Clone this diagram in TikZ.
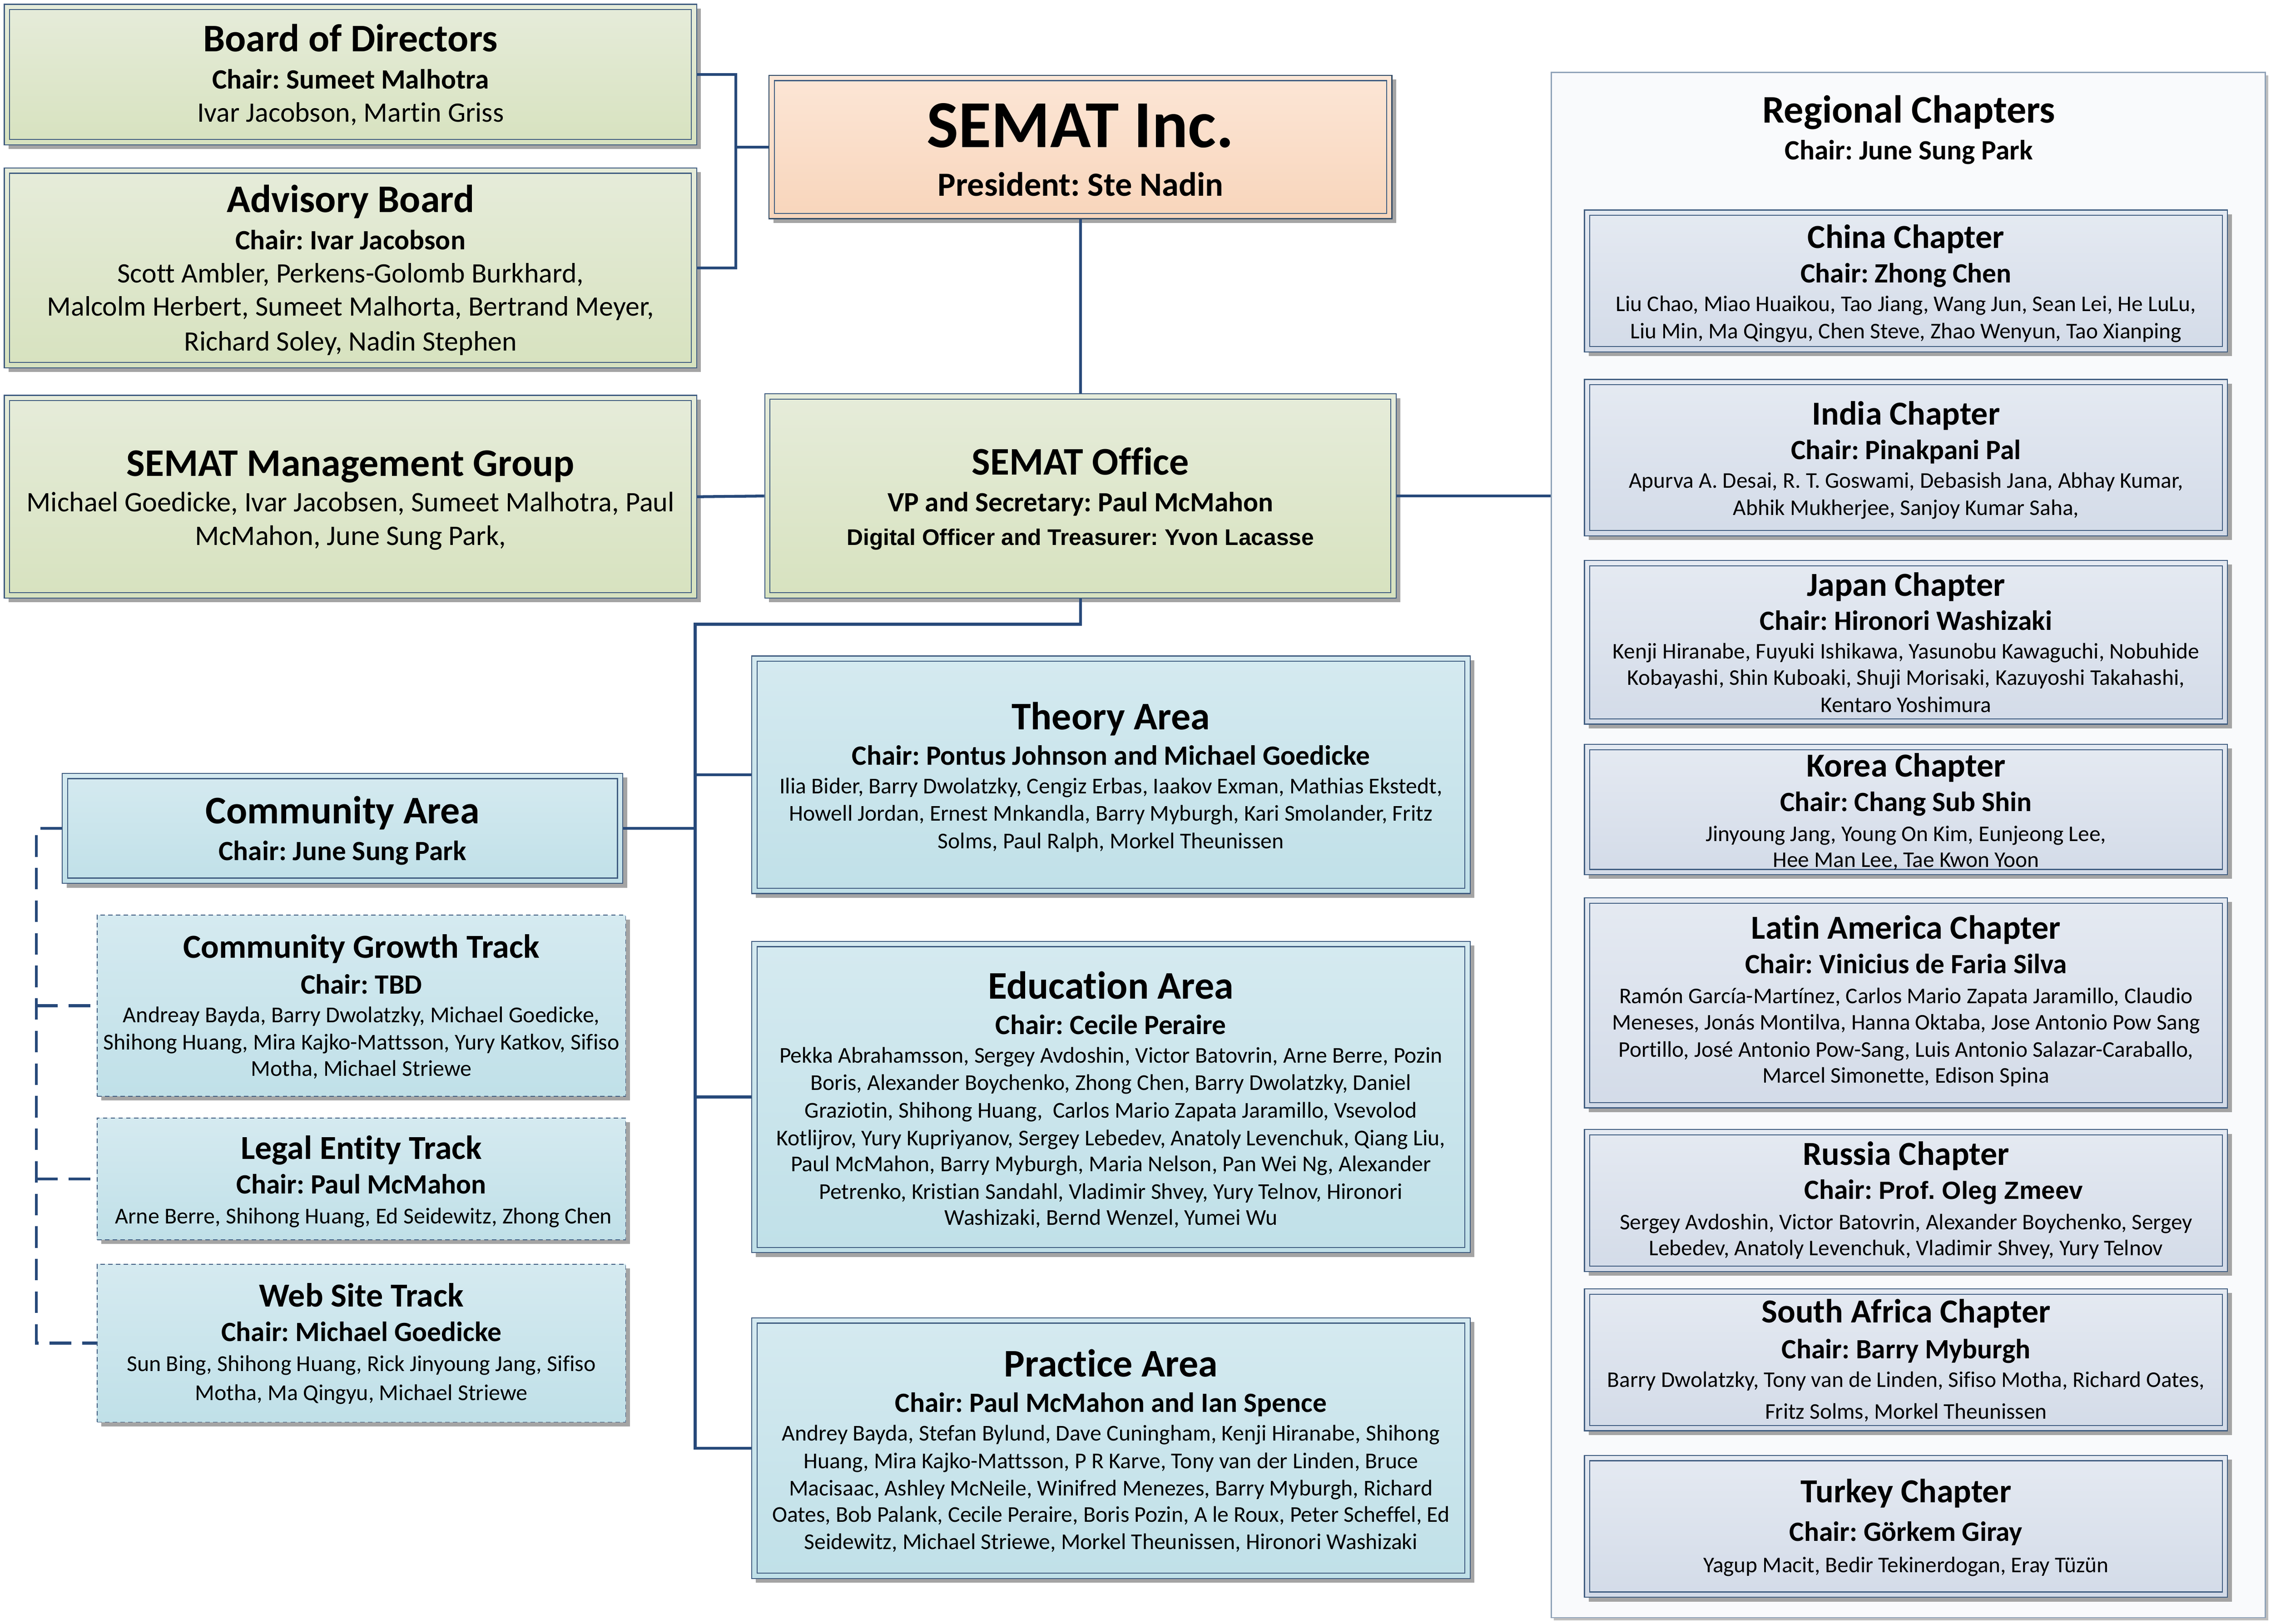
\documentclass[tikz,border=0pt]{standalone}
\usepackage{fontspec}
\setmainfont{Carlito}[Ligatures={NoCommon}]
\newfontfamily\arialfont{Liberation Sans}
\usetikzlibrary{shadows,fit}
\definecolor{bordc}{HTML}{3F5C80}
\definecolor{connc}{HTML}{27497A}
\definecolor{shadowc}{HTML}{A4A4A4}
\definecolor{grT}{HTML}{E6ECDA}
\definecolor{grB}{HTML}{D7E2BF}
\definecolor{peT}{HTML}{FCE6D6}
\definecolor{peB}{HTML}{F8D5BB}
\definecolor{blT}{HTML}{D5EAF0}
\definecolor{blB}{HTML}{C0E0E8}
\definecolor{chT}{HTML}{E5EAF2}
\definecolor{chB}{HTML}{D3DBE8}
\definecolor{panelc}{HTML}{F9FAFC}
\definecolor{paneld}{HTML}{8FA2B8}
\newcommand\setfs[1]{\fontsize{#1}{#1}\selectfont}
\frenchspacing
\tikzset{
  boxbase/.style={rectangle, inner sep=0pt, draw=bordc, line width=0.5pt,
    drop shadow={shadow xshift=2.1pt, shadow yshift=-2.1pt, fill=shadowc, opacity=1}},
  innerframe/.style={path picture={\draw[bordc, line width=0.5pt]
    ([xshift=2.6pt,yshift=2.6pt]path picture bounding box.south west) rectangle
    ([xshift=-2.6pt,yshift=-2.6pt]path picture bounding box.north east);}},
  greenbox/.style={boxbase, innerframe, top color=grT, bottom color=grB},
  peachbox/.style={boxbase, innerframe, top color=peT, bottom color=peB, draw=bordc!80!black},
  bluebox/.style={boxbase, innerframe, top color=blT, bottom color=blB},
  chapbox/.style={boxbase, innerframe, top color=chT, bottom color=chB},
  trackbox/.style={boxbase, top color=blT, bottom color=blB, line width=0.4pt, dash pattern=on 2.2pt off 1.6pt},
  panel/.style={rectangle, inner sep=0pt, fill=panelc, draw=paneld, line width=0.6pt,
    drop shadow={shadow xshift=1.4pt, shadow yshift=-1.4pt, fill=black!25, opacity=1}},
  conn/.style={draw=connc, line width=1.4pt},
  dconn/.style={draw=connc, line width=1.4pt, dash pattern=on 10.5pt off 5.5pt},
  txt/.style={anchor=base, inner sep=0pt, text=black},
  tone/.style={txt, font=\bfseries\setfs{19.2}, yshift=-6.2pt},
  tinc/.style={txt, font=\bfseries\setfs{33}, yshift=-10.6pt},
  tpres/.style={txt, font=\bfseries\setfs{16.6}, yshift=-5.3pt},
  tch/.style={txt, font=\bfseries\setfs{13.7}, yshift=-4.4pt},
  tnm/.style={txt, font=\setfs{13.8}, yshift=-4.4pt},
  tmg/.style={txt, font=\setfs{13.9}, yshift=-4.5pt},
  tct/.style={txt, font=\bfseries\setfs{16.5}, yshift=-5.3pt},
  tcn/.style={txt, font=\setfs{11}, yshift=-3.5pt},
  tan/.style={txt, font=\setfs{11.1}, yshift=-3.5pt},
  ttn/.style={txt, font=\setfs{11.15}, yshift=-3.5pt},
  tdig/.style={txt, font=\arialfont\bfseries\setfs{11.1}, yshift=-4pt},
}
\begin{document}
\begin{tikzpicture}[x=0.025cm, y=-0.025cm]
\useasboundingbox (0,0) rectangle (1568,1121.2);
% ---------- boxes ----------
\node[greenbox, fit={(3,3) (481,100)}] (bod) {};
\node[greenbox, fit={(3,116) (481,254)}] (adv) {};
\node[peachbox, fit={(531,52) (961,151)}] (inc) {};
\node[greenbox, fit={(3,273) (481,413)}] (mgmt) {};
\node[greenbox, fit={(528,272) (964,413)}] (off) {};
\node[panel, fit={(1071,50) (1564,1117)}] (reg) {};
\node[chapbox, fit={(1094,145) (1538,243)}] (china) {};
\node[chapbox, fit={(1094,262) (1538,370)}] (india) {};
\node[chapbox, fit={(1094,387) (1538,500)}] (japan) {};
\node[chapbox, fit={(1094,514) (1538,604)}] (korea) {};
\node[chapbox, fit={(1094,620) (1538,765)}] (latin) {};
\node[chapbox, fit={(1094,780) (1538,878)}] (russia) {};
\node[chapbox, fit={(1094,890) (1538,988)}] (safrica) {};
\node[chapbox, fit={(1094,1005) (1538,1103)}] (turkey) {};
\node[bluebox, fit={(519,453) (1015,617)}] (theory) {};
\node[bluebox, fit={(519,650) (1015,865)}] (edu) {};
\node[bluebox, fit={(519,910) (1015,1090)}] (prac) {};
\node[bluebox, fit={(43,534) (430,610)}] (comm) {};
\node[trackbox, fit={(67,632) (432,757)}] (cgt) {};
\node[trackbox, fit={(67,772) (432,856)}] (legal) {};
\node[trackbox, fit={(67,873) (432,982)}] (web) {};
% ---------- connectors ----------
\coordinate (jx) at (508,0);
\coordinate (trunk) at (480,431);
\coordinate (dtrunk) at (25,572);
\draw[conn] (bod.east) -- (bod.east -| jx) -- (jx |- adv.east) -- (adv.east);
\draw[conn] (inc.west) -- (inc.west -| jx);
\draw[conn] (inc.south) -- (off.north);
\draw[conn] (mgmt.east) -- (off.west);
\draw[conn] (off.east) -- (off.east -| reg.west);
\draw[conn] (off.south) |- (trunk) -- (trunk |- prac.west) -- (prac.west);
\draw[conn] (trunk |- theory.west) -- (theory.west);
\draw[conn] (trunk |- edu.west) -- (edu.west);
\draw[conn] (comm.east) -- (comm.east -| trunk);
\draw[dconn] (comm.west) -- (dtrunk) -- (dtrunk |- web.west) -- (web.west);
\draw[dconn] (dtrunk |- cgt.west) -- (cgt.west);
\draw[dconn] (dtrunk |- legal.west) -- (legal.west);
% ---------- texts ----------
\node[tone] (bod1) at (242,27) {Board of Directors};
\node[tch] (bod2) at (242,55) {Chair: Sumeet Malhotra};
\node[tnm] (bod3) at (242,78) {Ivar Jacobson, Martin Griss};
\node[tone] (adv1) at (242,138) {Advisory Board};
\node[tch] (adv2) at (242,166) {Chair: Ivar Jacobson};
\node[tnm] (adv3) at (242,189) {Scott Ambler, Perkens-Golomb Burkhard,};
\node[tnm] (adv4) at (242,212) {Malcolm Herbert, Sumeet Malhorta, Bertrand Meyer,};
\node[tnm] (adv5) at (242,236) {Richard Soley, Nadin Stephen};
\node[tinc] (inc1) at (746,87) {SEMAT Inc.};
\node[tpres] (inc2) at (746,128) {President: Ste Nadin};
\node[tone] (mgmt1) at (242,320) {SEMAT Management Group};
\node[tmg] (mgmt2) at (242,347) {Michael Goedicke, Ivar Jacobsen, Sumeet Malhotra, Paul};
\node[tmg] (mgmt3) at (242,370) {McMahon, June Sung Park,};
\node[tone] (off1) at (746,319) {SEMAT Office};
\node[tch] (off2) at (746,347) {VP and Secretary: Paul McMahon};
\node[tdig] (off3) at (746,371) {Digital Officer and Treasurer: Yvon Lacasse};
\node[tone] (reg1) at (1318,76) {Regional Chapters};
\node[tch] (reg2) at (1318,104) {Chair: June Sung Park};
\node[tct] (ch1) at (1316,164) {China Chapter};
\node[tch] (ch2) at (1316,189) {Chair: Zhong Chen};
\node[tcn] (ch3) at (1316,210) {Liu Chao, Miao Huaikou, Tao Jiang, Wang Jun, Sean Lei, He LuLu,};
\node[tcn] (ch4) at (1316,229) {Liu Min, Ma Qingyu, Chen Steve, Zhao Wenyun, Tao Xianping};
\node[tct] (in1) at (1316,286) {India Chapter};
\node[tch] (in2) at (1316,311) {Chair: Pinakpani Pal};
\node[tcn] (in3) at (1316,332) {Apurva A. Desai, R. T. Goswami, Debasish Jana, Abhay Kumar,};
\node[tcn] (in4) at (1316,351) {Abhik Mukherjee, Sanjoy Kumar Saha,};
\node[tct] (jp1) at (1316,404) {Japan Chapter};
\node[tch] (jp2) at (1316,429) {Chair: Hironori Washizaki};
\node[tcn] (jp3) at (1316,450) {Kenji Hiranabe, Fuyuki Ishikawa, Yasunobu Kawaguchi, Nobuhide};
\node[tcn] (jp4) at (1316,468) {Kobayashi, Shin Kuboaki, Shuji Morisaki, Kazuyoshi Takahashi,};
\node[tcn] (jp5) at (1316,487) {Kentaro Yoshimura};
\node[tct] (ko1) at (1316,529) {Korea Chapter};
\node[tch] (ko2) at (1316,554) {Chair: Chang Sub Shin};
\node[tcn] (ko3) at (1316,576) {Jinyoung Jang, Young On Kim, Eunjeong Lee,};
\node[tcn] (ko4) at (1316,594) {Hee Man Lee, Tae Kwon Yoon};
\node[tct] (la1) at (1316,641) {Latin America Chapter};
\node[tch] (la2) at (1316,666) {Chair: Vinicius de Faria Silva};
\node[tcn] (la3) at (1316,688) {Ramón García-Martínez, Carlos Mario Zapata Jaramillo, Claudio};
\node[tcn] (la4) at (1316,706) {Meneses, Jonás Montilva, Hanna Oktaba, Jose Antonio Pow Sang};
\node[tcn] (la5) at (1316,725) {Portillo, José Antonio Pow-Sang, Luis Antonio Salazar-Caraballo,};
\node[tcn] (la6) at (1316,743) {Marcel Simonette, Edison Spina};
\node[tct] (ru1) at (1316,797) {Russia Chapter};
\node[tch] (ru2) at (1342,822) {Chair: {\arialfont\setfs{12.2}Prof. Oleg Zmeev}};
\node[tcn] (ru3) at (1316,844) {Sergey Avdoshin, Victor Batovrin, Alexander Boychenko, Sergey};
\node[tcn] (ru4) at (1316,862) {Lebedev, Anatoly Levenchuk, Vladimir Shvey, Yury Telnov};
\node[tct] (sa1) at (1316,906) {South Africa Chapter};
\node[tch] (sa2) at (1316,932) {Chair: Barry Myburgh};
\node[tcn] (sa3) at (1316,953) {Barry Dwolatzky, Tony van de Linden, Sifiso Motha, Richard Oates,};
\node[tcn] (sa4) at (1316,975) {Fritz Solms, Morkel Theunissen};
\node[tct] (tu1) at (1316,1030) {Turkey Chapter};
\node[tch] (tu2) at (1316,1058) {Chair: Görkem Giray};
\node[tcn] (tu3) at (1316,1081) {Yagup Macit, Bedir Tekinerdogan, Eray Tüzün};
\node[tone] (th1) at (767,495) {Theory Area};
\node[tch] (th2) at (767,522) {Chair: Pontus Johnson and Michael Goedicke};
\node[tan] (th3) at (767,543) {Ilia Bider, Barry Dwolatzky, Cengiz Erbas, Iaakov Exman, Mathias Ekstedt,};
\node[tan] (th4) at (767,562) {Howell Jordan, Ernest Mnkandla, Barry Myburgh, Kari Smolander, Fritz};
\node[tan] (th5) at (767,581) {Solms, Paul Ralph, Morkel Theunissen};
\node[tone] (ed1) at (767,681) {Education Area};
\node[tch] (ed2) at (767,708) {Chair: Cecile Peraire};
\node[tan] (ed3) at (767,729) {Pekka Abrahamsson, Sergey Avdoshin, Victor Batovrin, Arne Berre, Pozin};
\node[tan] (ed4) at (767,748) {Boris, Alexander Boychenko, Zhong Chen, Barry Dwolatzky, Daniel};
\node[tan] (ed5) at (767,767) {Graziotin, Shihong Huang,\ \ Carlos Mario Zapata Jaramillo, Vsevolod};
\node[tan] (ed6) at (767,786) {Kotlijrov, Yury Kupriyanov, Sergey Lebedev, Anatoly Levenchuk, Qiang Liu,};
\node[tan] (ed7) at (767,804) {Paul McMahon, Barry Myburgh, Maria Nelson, Pan Wei Ng, Alexander};
\node[tan] (ed8) at (767,823) {Petrenko, Kristian Sandahl, Vladimir Shvey, Yury Telnov, Hironori};
\node[tan] (ed9) at (767,841) {Washizaki, Bernd Wenzel, Yumei Wu};
\node[tone] (pr1) at (767,942) {Practice Area};
\node[tch] (pr2) at (767,969) {Chair: Paul McMahon and Ian Spence};
\node[tan] (pr3) at (767,990) {Andrey Bayda, Stefan Bylund, Dave Cuningham, Kenji Hiranabe, Shihong};
\node[tan] (pr4) at (767,1009) {Huang, Mira Kajko-Mattsson, P R Karve, Tony van der Linden, Bruce};
\node[tan] (pr5) at (767,1028) {Macisaac, Ashley McNeile, Winifred Menezes, Barry Myburgh, Richard};
\node[tan] (pr6) at (767,1046) {Oates, Bob Palank, Cecile Peraire, Boris Pozin, A le Roux, Peter Scheffel, Ed};
\node[tan] (pr7) at (767,1065) {Seidewitz, Michael Striewe, Morkel Theunissen, Hironori Washizaki};
\node[tone] (co1) at (236.5,560) {Community Area};
\node[tch] (co2) at (236.5,588) {Chair: June Sung Park};
\node[tct] (cg1) at (249.5,654) {Community Growth Track};
\node[tch] (cg2) at (249.5,680) {Chair: TBD};
\node[ttn] (cg3) at (249.5,701) {Andreay Bayda, Barry Dwolatzky, Michael Goedicke,};
\node[ttn] (cg4) at (249.5,720) {Shihong Huang, Mira Kajko-Mattsson, Yury Katkov, Sifiso};
\node[ttn] (cg5) at (249.5,738) {Motha, Michael Striewe};
\node[tct] (le1) at (249.5,793) {Legal Entity Track};
\node[tch] (le2) at (249.5,818) {Chair: Paul McMahon};
\node[ttn] (le3) at (251,840) {Arne Berre, Shihong Huang, Ed Seidewitz, Zhong Chen};
\node[tct] (we1) at (249.5,895) {Web Site Track};
\node[tch] (we2) at (249.5,920) {Chair: Michael Goedicke};
\node[ttn] (we3) at (249.5,942) {Sun Bing, Shihong Huang, Rick Jinyoung Jang, Sifiso};
\node[ttn] (we4) at (249.5,962) {Motha, Ma Qingyu, Michael Striewe};
\end{tikzpicture}
\end{document}
